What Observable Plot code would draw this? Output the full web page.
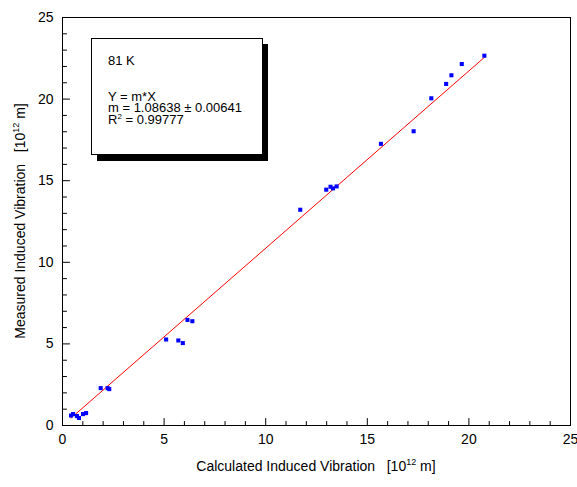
<!DOCTYPE html>
<html><head><meta charset="utf-8">
<script src="https://cdn.jsdelivr.net/npm/d3@7"></script>
<script src="https://cdn.jsdelivr.net/npm/@observablehq/plot@0.6"></script>
<style>
body{margin:0;background:#fff;}
#wrap{width:577px;height:487px;}
</style></head><body><div id="wrap"></div>
<script>
// Data
const calculated = [0.42, 0.52, 0.71, 0.81, 1.01, 1.16, 1.88, 2.22, 2.30, 5.10, 5.70, 5.92, 6.15, 6.39, 11.70, 12.98, 13.19, 13.31, 13.49, 15.67, 17.28, 18.15, 18.88, 19.14, 19.65, 20.76];
const measured   = [0.61, 0.70, 0.58, 0.46, 0.70, 0.76, 2.29, 2.29, 2.23, 5.27, 5.21, 5.05, 6.47, 6.39, 13.22, 14.45, 14.63, 14.53, 14.65, 17.26, 18.03, 20.05, 20.93, 21.46, 22.15, 22.66];
const fitSlope = 1.08638;
const fitRange = [0.42, 20.76];
const majorTicks = [0, 5, 10, 15, 20, 25];
const minorTicks = [1, 2, 3, 4, 6, 7, 8, 9, 11, 12, 13, 14, 16, 17, 18, 19, 21, 22, 23, 24];
const boxTitle = "81 K";
const boxEquation = "Y = m*X";
const boxSlope = "m = 1.08638 \u00b1 0.00641";
const boxR2 = "0.99777";
const xLabel = "Calculated Induced Vibration   [10";
const yLabel = "Measured Induced Vibration   [10";
const labelExp = "12";
const labelUnit = " m]";

const points = calculated.map((x, i) => ({x, y: measured[i]}));
const fitLine = fitRange.map(x => ({x, y: fitSlope * x}));
const font = "'Liberation Sans', Arial, sans-serif";

// tick shape: a straight segment of the given pixel length
const segment = {draw(context, l) { context.moveTo(0, 0); context.lineTo(0, -l); }};
const tickOpts = {shape: segment, anchor: "start", stroke: "#000", strokeWidth: 1};

const chart = Plot.plot({
  width: 577, height: 487,
  marginLeft: 62, marginRight: 7, marginTop: 17, marginBottom: 62,
  style: {fontFamily: font, fontSize: "14px", background: "#fff", color: "#000"},
  x: {domain: [0, 25]},
  y: {domain: [0, 25]},
  marks: [
    Plot.axisX({ticks: majorTicks, tickSize: 0, tickPadding: 9, label: null, fontSize: 14}),
    Plot.axisY({ticks: majorTicks, tickSize: 0, tickPadding: 9, label: null, fontSize: 14}),
    // inward ticks along the bottom axis
    Plot.vector(majorTicks, {...tickOpts, x: d => d, y: () => 0, length: 7, rotate: 0}),
    Plot.vector(minorTicks, {...tickOpts, x: d => d, y: () => 0, length: 4, rotate: 0}),
    // inward ticks along the left axis
    Plot.vector(majorTicks, {...tickOpts, x: () => 0, y: d => d, length: 7, rotate: 90}),
    Plot.vector(minorTicks, {...tickOpts, x: () => 0, y: d => d, length: 4, rotate: 90}),
    Plot.line(fitLine, {x: "x", y: "y", stroke: "#ff0000", strokeWidth: 1}),
    Plot.dot(points, {x: "x", y: "y", symbol: "square", r: 2.3, fill: "#0000ff"}),
    Plot.frame({stroke: "#000", strokeWidth: 1})
  ]
});
document.getElementById("wrap").appendChild(chart);

const svg = d3.select(chart);
// Annotation box
const g = svg.append("g").attr("font-family", font).attr("font-size", 13).attr("fill", "#000").attr("text-anchor", "start");
g.append("rect").attr("x", 97).attr("y", 44).attr("width", 171).attr("height", 117).attr("fill", "#000");
g.append("rect").attr("x", 91.5).attr("y", 38.5).attr("width", 171).attr("height", 116).attr("fill", "#fff").attr("stroke", "#000");
g.append("text").attr("x", 108).attr("y", 64.5).text(boxTitle);
g.append("text").attr("x", 108).attr("y", 101).text(boxEquation);
g.append("text").attr("x", 108).attr("y", 112.3).text(boxSlope);
const r2 = g.append("text").attr("x", 108).attr("y", 123.6);
r2.append("tspan").text("R");
r2.append("tspan").attr("font-size", 8).attr("dy", -5).text("2");
r2.append("tspan").attr("dy", 5).text(" = " + boxR2);

// Axis titles with superscript
function title(sel, main) {
  sel.style("white-space", "pre").attr("font-family", font).attr("font-size", 14).attr("fill", "#000").attr("text-anchor", "middle");
  sel.append("tspan").text(main);
  sel.append("tspan").attr("font-size", 9).attr("dy", -6).text(labelExp);
  sel.append("tspan").attr("dy", 6).text(labelUnit);
}
title(svg.append("text").attr("x", 316).attr("y", 471), xLabel);
title(svg.append("text").attr("transform", "translate(25,221) rotate(-90)"), yLabel);
</script></body></html>
